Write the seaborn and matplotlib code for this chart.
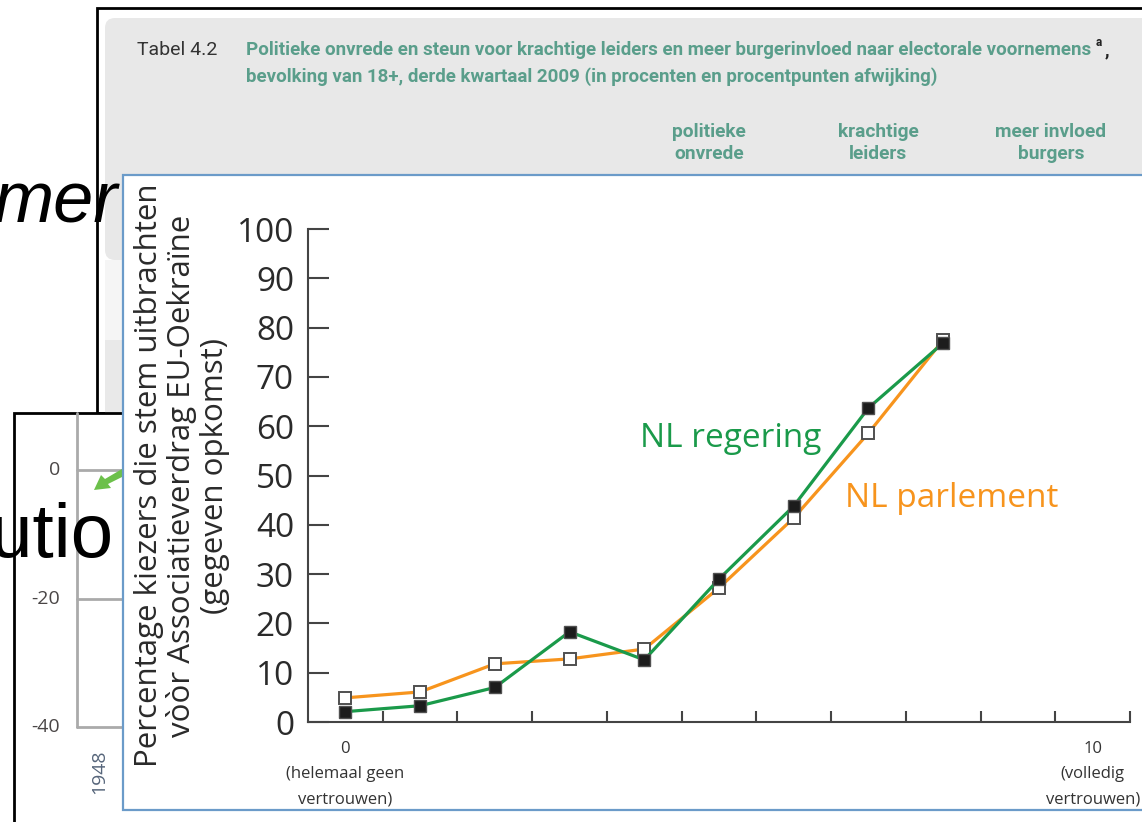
import matplotlib
matplotlib.use("Agg")
import matplotlib.pyplot as plt
from matplotlib.patches import Rectangle, FancyBboxPatch, Polygon
import seaborn as sns

# vertrouwen in de NL regering / het NL parlement (0 = helemaal geen, 10 = volledig)
vertrouwen = [0, 1, 2, 3, 4, 5, 6, 7, 8]
nl_regering = [2.1, 3.3, 7.0, 18.3, 12.6, 29.0, 43.8, 63.7, 76.9]
nl_parlement = [4.9, 6.1, 11.8, 12.8, 14.8, 27.2, 41.4, 58.6, 77.5]

y_ticks = [0, 10, 20, 30, 40, 50, 60, 70, 80, 90, 100]
x_label_pos = [0, 10]
x_labels = ["0\n(helemaal geen\nvertrouwen)", "10\n(volledig\nvertrouwen)"]
y_label = "Percentage kiezers die stem uitbrachten\nvòòr Associatieverdrag EU-Oekraïne\n(gegeven opkomst)"

# teksten van de schermafdrukken op de achtergrond
tabel_nr = "Tabel 4.2"
tabel_titel = ["Politieke onvrede en steun voor krachtige leiders en meer burgerinvloed naar electorale voornemens",
               "bevolking van 18+, derde kwartaal 2009 (in procenten en procentpunten afwijking)"]
tabel_kolommen = ["politieke\nonvrede", "krachtige\nleiders", "meer invloed\nburgers"]
achter_ticks = ["0", "-20", "-40"]
achter_jaar = "1948"

GROEN = "#1a9a4a"
ORANJE = "#f7941d"
TEAL = "#5a9e8b"

sns.set_style("ticks")
plt.rcParams["font.family"] = ["Open Sans", "DejaVu Sans"]

fig = plt.figure(figsize=(11.42, 8.22), dpi=100)

# ---- achtergrond (pixel coordinaten) ----
bg = fig.add_axes([0, 0, 1, 1])
bg.set_xlim(0, 1142)
bg.set_ylim(822, 0)
bg.axis("off")

# tabel schermafdruk
bg.add_patch(Rectangle((97, 8), 1200, 405, facecolor="white", edgecolor="black", lw=2, zorder=1))
bg.add_patch(FancyBboxPatch((105, 18), 1200, 242, boxstyle="round,pad=0,rounding_size=10",
                            facecolor="#e8e8e8", edgecolor="none", zorder=2))
bg.add_patch(Rectangle((105, 260), 1200, 80, facecolor="#f5f5f5", edgecolor="none", zorder=2))
bg.add_patch(Rectangle((105, 340), 1200, 73, facecolor="#e9e9e9", edgecolor="none", zorder=2))
nauw = ["Roboto", "DejaVu Sans"]
bg.text(137, 50, tabel_nr, fontsize=14, color="#333333", family=nauw, va="center", zorder=3)
titel1 = bg.text(246, 50, tabel_titel[0], fontsize=13.5, color=TEAL, family=nauw, weight="bold",
                 va="center", zorder=3)
bg.text(246, 77, tabel_titel[1], fontsize=13.5, color=TEAL, family=nauw, weight="bold", va="center", zorder=3)
for xk, kol in zip([709, 878, 1051], tabel_kolommen):
    bg.text(xk, 143, kol, fontsize=13.8, color=TEAL, family=nauw, weight="bold",
            ha="center", va="center", linespacing=1.25, zorder=3)

# voetnootteken direct achter de titelregel
renderer = fig.canvas.get_renderer()
eind = titel1.get_window_extent(renderer)
x_eind = bg.transData.inverted().transform((eind.x1, eind.y0))[0]
bg.text(x_eind + 4, 43, "a", fontsize=8.5, color="#222222", family=nauw, weight="bold", va="center", zorder=3)
bg.text(x_eind + 13, 50, ",", fontsize=13.5, color="#222222", family=nauw, weight="bold", va="center", zorder=3)

# tweede schermafdruk (grafiek)
bg.add_patch(Rectangle((14, 413), 1200, 500, facecolor="white", edgecolor="black", lw=2, zorder=4))
bg.plot([77, 77], [413, 727], color="#aaaaaa", lw=2, zorder=5)
for yy, lab in zip([470, 599, 727], achter_ticks):
    bg.plot([77, 1142], [yy, yy], color="#aaaaaa", lw=2, zorder=5)
    bg.text(60, yy, lab, fontsize=14, color="#4a4646", ha="right", va="center", zorder=5)
bg.text(99, 772, achter_jaar, fontsize=14, color="#56657a", rotation=90, ha="center", va="center", zorder=5)
bg.add_patch(Polygon([(94, 490), (101, 475), (105, 479), (122, 469), (122, 477), (108, 484), (111, 488)],
                     closed=True, facecolor="#6cc04a", edgecolor="none", zorder=5))

# losse tekstfragmenten
bg.text(-6, 222, "mer", fontsize=52, style="italic", family=["Liberation Sans", "DejaVu Sans"],
        color="black", va="baseline", zorder=6)
bg.text(-10, 557, "utio", fontsize=55, family=["Liberation Sans", "DejaVu Sans"],
        color="black", va="baseline", zorder=6)

# paneel van de hoofdgrafiek
bg.add_patch(Rectangle((122.5, 175.5), 1100, 634, facecolor="white", edgecolor="#6b9bc9", lw=1.6, zorder=10))

# ---- hoofdgrafiek ----
ax = fig.add_axes([308 / 1142, 1 - 722 / 822, 822 / 1142, 493 / 822])
ax.patch.set_alpha(0)

sns.lineplot(x=vertrouwen, y=nl_parlement, ax=ax, color=ORANJE, lw=2.3, marker="s", markersize=8.5,
             markerfacecolor="white", markeredgecolor="#505050", markeredgewidth=1.4, zorder=3)
sns.lineplot(x=vertrouwen, y=nl_regering, ax=ax, color=GROEN, lw=2.3, marker="s", markersize=8.5,
             markerfacecolor="#1c1c1c", markeredgecolor="#505050", markeredgewidth=1.0, zorder=4)

ax.set_xlim(-0.5, 10.5)
ax.set_ylim(0, 100)
ax.set_yticks(y_ticks)
ax.set_xticks(x_label_pos)
ax.set_xticklabels(x_labels)
ax.set_xticks([i + 0.5 for i in range(11)], minor=True)

ax.tick_params(axis="y", direction="in", length=15, width=1.5, pad=10, labelsize=24,
               color="#444444", labelcolor="#2a2a2a")
ax.tick_params(axis="x", which="major", length=0, pad=14, labelsize=12, labelcolor="#333333")
ax.tick_params(axis="x", which="minor", direction="in", length=8, width=1.5, color="#444444")
for lab in ax.get_xticklabels():
    lab.set_linespacing(1.75)

ax.set_ylabel(y_label, fontsize=22.5, color="#2a2a2a", labelpad=5, linespacing=1.1)
ax.set_xlabel("")

for side in ["top", "right"]:
    ax.spines[side].set_visible(False)
for side in ["left", "bottom"]:
    ax.spines[side].set_color("#444444")
    ax.spines[side].set_linewidth(1.5)

ax.text(3.94, 55.8, "NL regering", color=GROEN, fontsize=24, va="baseline")
ax.text(6.69, 43.6, "NL parlement", color=ORANJE, fontsize=24, va="baseline")

fig.savefig("out.png", dpi=100)
